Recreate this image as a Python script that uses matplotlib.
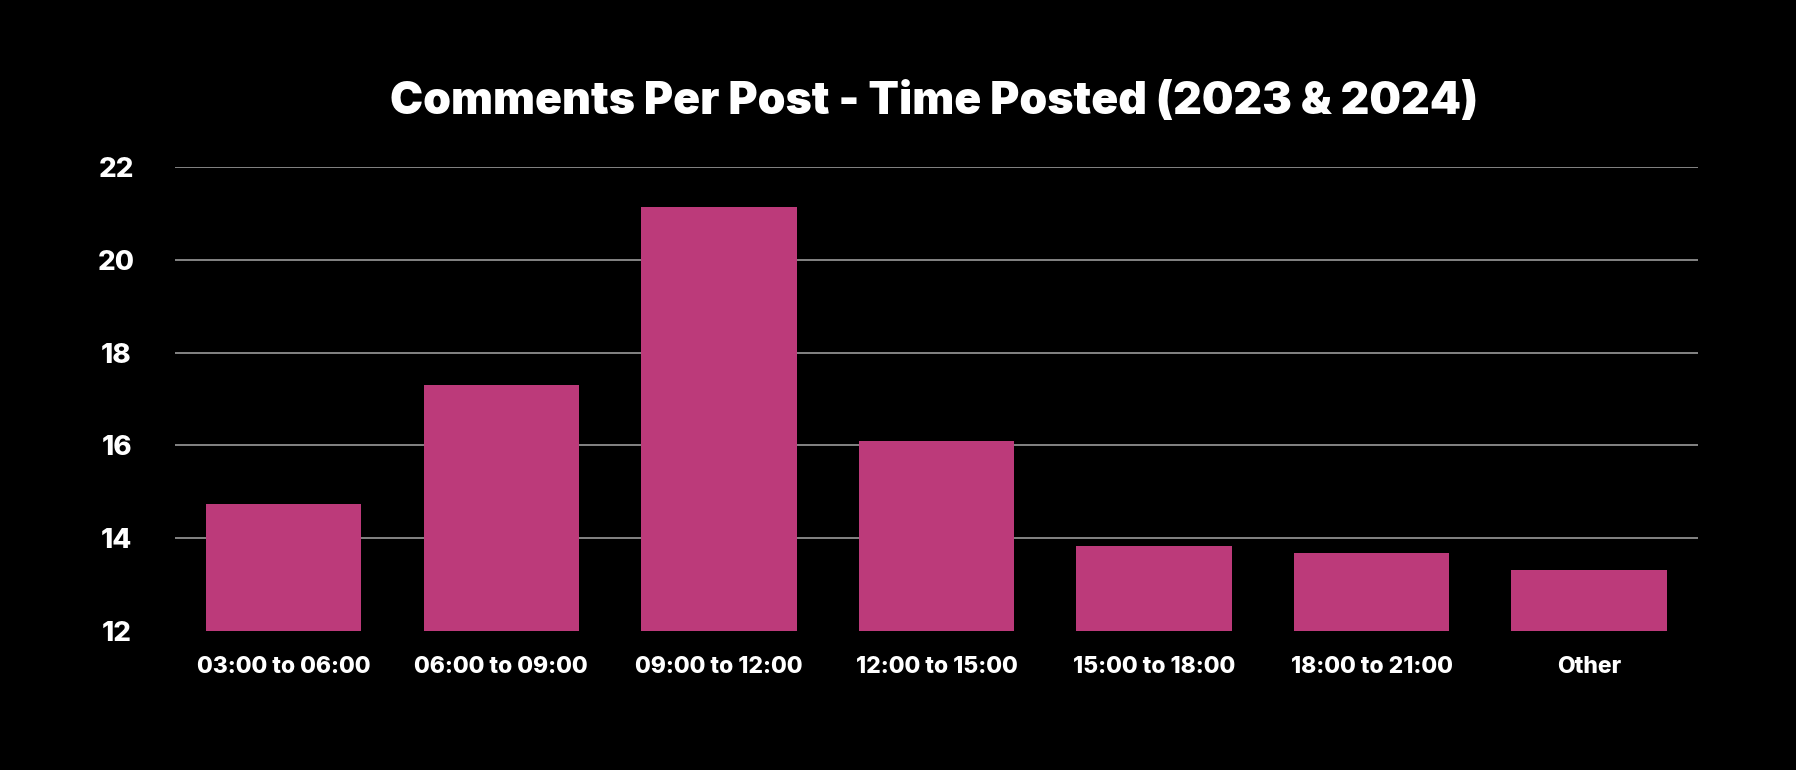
import matplotlib
matplotlib.use("Agg")
import matplotlib.pyplot as plt

categories = ["03:00 to 06:00", "06:00 to 09:00", "09:00 to 12:00", "12:00 to 15:00",
              "15:00 to 18:00", "18:00 to 21:00", "Other"]
comments_per_post = [14.74, 17.30, 21.14, 16.09, 13.83, 13.68, 13.31]
y_ticks = [12, 14, 16, 18, 20, 22]

plt.rcParams['font.family'] = ['Inter', 'DejaVu Sans']

fig = plt.figure(figsize=(17.96, 7.70), dpi=100, facecolor='black')
ax = fig.add_axes([0.0974, 0.1805, 0.848, 0.6026])
ax.set_facecolor('black')

x = range(len(categories))
ax.bar(x, comments_per_post, width=0.715, color='#bc3a7a', zorder=3)

ax.set_xlim(-0.5, len(categories) - 0.5)
ax.set_ylim(12, 22)
ax.set_yticks(y_ticks)
ax.set_yticklabels([str(t) for t in y_ticks], fontsize=20, fontweight=800, color='white')
ax.set_xticks(list(x))
ax.set_xticklabels(categories, fontsize=16.5, fontweight=800, color='white')
ax.tick_params(axis='both', length=0)
ax.tick_params(axis='x', pad=18)
for lbl in ax.get_yticklabels():
    lbl.set_horizontalalignment('center')
ax.tick_params(axis='y', pad=42)

ax.grid(axis='y', color='#9a9a9a', linewidth=1.2, zorder=0)
ax.yaxis.get_major_ticks()[0].gridline.set_visible(False)
for s in ax.spines.values():
    s.set_visible(False)

fig.text(0.52, 0.868, "Comments Per Post - Time Posted (2023 & 2024)", ha='center', va='center',
         fontsize=32, fontweight=900, color='white')

fig.savefig("out.png", dpi=100, facecolor='black')
